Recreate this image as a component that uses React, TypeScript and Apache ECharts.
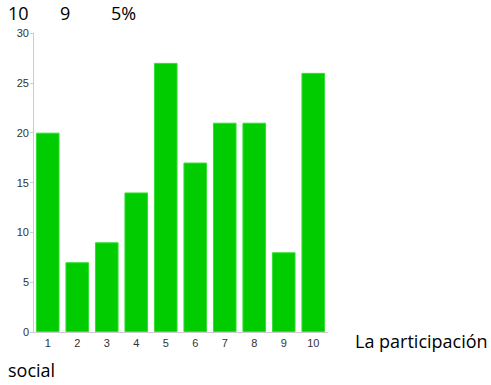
import React, { useEffect, useRef } from "react";
import * as echarts from "echarts";

const categories = ["1", "2", "3", "4", "5", "6", "7", "8", "9", "10"];
const values = [20, 7, 9, 14, 27, 17, 21, 21, 8, 26];
const yTicks = { min: 0, max: 30, interval: 5 };
const headerTexts = ["10", "9", "5%"];
const sideText = "La participación";
const bottomText = "social";

export default function App() {
  const ref = useRef<HTMLDivElement>(null);
  useEffect(() => {
    if (!ref.current) return;
    const chart = echarts.init(ref.current, null, { renderer: "svg" });
    const bigFont = '"Open Sans", "Noto Sans", sans-serif';
    const smallFont = '"Liberation Sans", Arial, sans-serif';
    chart.setOption({
      animation: false,
      backgroundColor: "#ffffff",
      grid: { left: 33, top: 33, width: 295, height: 299, containLabel: false },
      xAxis: {
        type: "category",
        data: categories,
        axisLine: { lineStyle: { color: "#cccccc", width: 1 } },
        axisTick: { alignWithLabel: true, length: 3, lineStyle: { color: "#cccccc" } },
        axisLabel: { color: "#333333", fontSize: 11, margin: 5, fontFamily: smallFont },
      },
      yAxis: {
        type: "value",
        min: yTicks.min,
        max: yTicks.max,
        interval: yTicks.interval,
        splitLine: { show: false },
        axisLine: { show: true, lineStyle: { color: "#cccccc", width: 1 } },
        axisTick: { show: true, length: 3, lineStyle: { color: "#cccccc" } },
        axisLabel: { color: "#333333", fontSize: 11, margin: 4, fontFamily: smallFont },
      },
      series: [
        {
          type: "bar",
          data: values,
          barCategoryGap: "20%",
          itemStyle: { color: "#00cc00", borderColor: "#33dd33", borderWidth: 1 },
        },
      ],
      graphic: [
        { type: "text", left: 8, top: 4, style: { text: headerTexts[0], fontSize: 18, fontFamily: bigFont, fill: "#000" } },
        { type: "text", left: 60, top: 4, style: { text: headerTexts[1], fontSize: 18, fontFamily: bigFont, fill: "#000" } },
        { type: "text", left: 111, top: 4, style: { text: headerTexts[2], fontSize: 18, fontFamily: bigFont, fill: "#000" } },
        { type: "text", left: 355, top: 332, style: { text: sideText, fontSize: 18, fontFamily: bigFont, fill: "#000" } },
        { type: "text", left: 8, top: 361, style: { text: bottomText, fontSize: 18, fontFamily: bigFont, fill: "#000" } },
      ],
    });
    return () => chart.dispose();
  }, []);
  return (
    <div
      ref={ref}
      style={{ position: "fixed", left: 0, top: 0, width: 491, height: 385, background: "#fff" }}
    />
  );
}
